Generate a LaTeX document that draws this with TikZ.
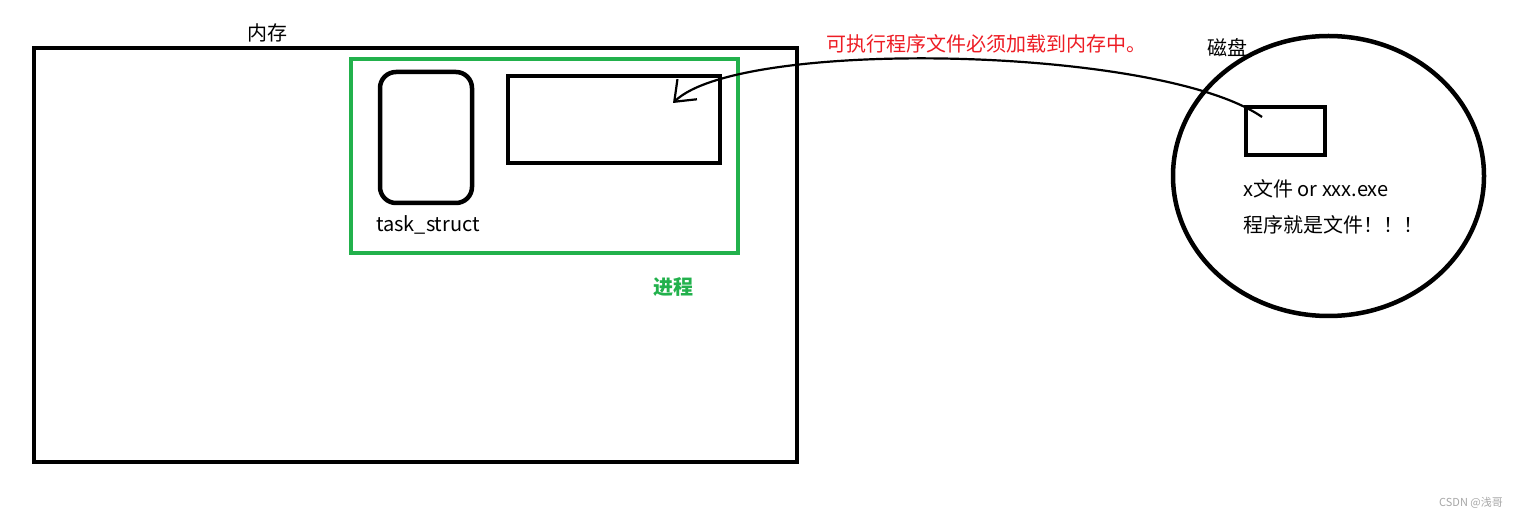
\documentclass[tikz,border=0pt]{standalone}
\usepackage{fontspec}
\setmainfont{Noto Sans CJK SC}
\usetikzlibrary{calc,shapes.geometric,arrows.meta}
\definecolor{procgreen}{RGB}{34,177,76}
\definecolor{notered}{RGB}{237,28,36}

\begin{document}
\begin{tikzpicture}[x=1pt,y=-1pt,
    box/.style={draw,line width=4.5pt,inner sep=0pt,outer sep=0pt},
    txt/.style={font=\fontsize{20}{23}\selectfont,inner sep=0pt},
    load/.style={line width=2.2pt,-{Straight Barb[length=18pt,width=28pt]}}
  ]
  \useasboundingbox (0,0) rectangle (1521,518);

  % Memory and the process inside it
  \node[box,minimum width=763pt,minimum height=414pt] (mem) at (415.5,255) {};
  \node[txt] (memlabel) at (267,33) {内存};
  \node[box,draw=procgreen,minimum width=387pt,minimum height=194pt] (proc) at (544.5,156) {};
  \node[box,rounded corners=16pt,minimum width=92pt,minimum height=131pt] (task) at (426,137.5) {};
  \node[txt] (tasklabel) at (428,225) {task\_struct};
  \node[box,minimum width=212pt,minimum height=87pt] (prog) at (614,119.5) {};
  \node[txt,text=procgreen,font=\fontsize{20}{23}\selectfont\bfseries] (proclabel) at (673,287) {进程};

  % Disk
  \node[box,ellipse,minimum width=311pt,minimum height=280pt] (disk) at (1328.5,176) {};
  \node[txt] (disklabel) at (1227,48) {磁盘};
  \node[box,minimum width=79pt,minimum height=48pt] (file) at (1285.5,131) {};
  \node[txt,anchor=west] (fileline1) at (1243,189) {x文件 or xxx.exe};
  \node[txt,anchor=west] (fileline2) at (1243,225) {程序就是文件！！！};

  % Loading the program
  \node[txt,text=notered] (loadlabel) at (986,44) {可执行程序文件必须加载到内存中。};
  \coordinate (src) at ($(file.north west)+(16,10)$);
  \coordinate (dst) at ($(prog.north east)+(-47,27)$);
  \draw[load] (src) .. controls (1160,46) and (740,38) .. (dst);

  \node[font=\fontsize{11}{13}\selectfont,text=black!35,inner sep=0pt] (mark) at (1471,503) {CSDN @浅哥};
\end{tikzpicture}
\end{document}
